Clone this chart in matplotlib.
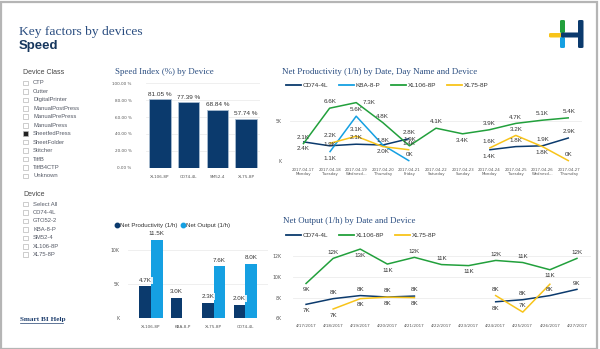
import matplotlib.pyplot as plt
from matplotlib.lines import Line2D
from matplotlib.patches import Rectangle, FancyBboxPatch
import numpy as np

W, H = 600, 349
NAVY = '#0b3a6d'
GREEN = '#22a03c'
LBLUE = '#15a0e2'
YELLOW = '#f8c41a'
TITLE = '#2a4d80'
GRID = '#ececec'
TICK = '#555555'
SANS = 'Liberation Sans'
SERIF = 'Liberation Serif'

# slicers
device_classes = ['CTP', 'Cutter', 'DigitalPrinter', 'ManualPostPress', 'ManualPrePress',
                  'ManualPress', 'SheetfedPress', 'SheetFolder', 'Stitcher', 'TiffB',
                  'TiffB4CTP', 'Unknown']
selected_class = 'SheetfedPress'
devices = ['Select All', 'CD74-4L', 'GTO52-2', 'KBA-8-P', 'SM52-4', 'XL106-8P', 'XL75-8P']

# speed index (%)
speed_devices = ['XL106-8P', 'CD74-4L', 'SM52-4', 'XL75-8P']
speed_index = [81.05, 77.39, 68.84, 57.74]

# net productivity (1/h, thousands) by day
prod_dates = ['2017-04-17', '2017-04-18', '2017-04-19', '2017-04-20', '2017-04-21', '2017-04-22',
              '2017-04-23', '2017-04-24', '2017-04-25', '2017-04-26', '2017-04-27']
prod_days = ['Monday', 'Tuesday', 'Wednesd...', 'Thursday', 'Friday', 'Saturday',
             'Sunday', 'Monday', 'Tuesday', 'Wednesd...', 'Thursday']
nan = np.nan
prod_cd74 = [2.4, 1.9, 2.1, 2.0, 2.8, nan, nan, 1.4, 1.8, 1.9, 2.9]
prod_kba = [nan, 1.1, 5.6, 2.0, 0.0, nan, nan, nan, nan, nan, nan]
prod_xl106 = [2.1, 6.6, 7.3, 4.8, 1.9, 4.1, 3.4, 3.9, 4.7, 5.1, 5.4]
prod_xl75 = [nan, 2.2, 3.1, 1.8, 1.4, nan, nan, 1.6, 3.2, 1.8, 0.0]

# net output (1/h, thousands) by date
out_dates = ['4/17/2017', '4/18/2017', '4/19/2017', '4/20/2017', '4/21/2017', '4/22/2017',
             '4/23/2017', '4/24/2017', '4/25/2017', '4/26/2017', '4/27/2017']
out_cd74 = [7.35, 7.9, 8.2, 8.06, 8.15, nan, nan, 7.6, 7.8, 8.2, 8.8]
out_xl106 = [9.37, 11.8, 12.7, 11.25, 11.9, 11.2, 11.1, 11.6, 11.4, 10.7, 11.8]
out_xl75 = [nan, 6.9, 7.9, 8.05, 8.0, nan, nan, 8.2, 6.6, 9.3, nan]

# totals by device
tot_devices = ['XL106-8P', 'KBA-8-P', 'XL75-8P', 'CD74-4L']
tot_prod = [4.7, 3.0, 2.3, 2.0]
tot_out = [11.5, nan, 7.6, 8.0]


def box(x0, y0, x1, y1):
    return [x0 / W, 1 - y1 / H, (x1 - x0) / W, (y1 - y0) / H]


def fx(x):
    return x / W


def fy(y):
    return 1 - y / H


def clean(ax):
    for s in ax.spines.values():
        s.set_visible(False)
    ax.tick_params(length=0, labelsize=3.3, colors=TICK, pad=2)
    ax.set_axisbelow(True)
    ax.yaxis.grid(True, color=GRID, lw=0.6)


fig = plt.figure(figsize=(6, 3.49), dpi=100)
fig.patch.set_facecolor('white')
fig.patches.append(Rectangle((0.5, 0.5), 596, 347, transform=None, fill=False,
                             ec='#b5b5b5', lw=1.6))

# header
fig.text(fx(19), fy(32), 'Key factors by devices', family=SERIF, size=9.7, color=TITLE, va='center')
fig.text(fx(19), fy(46), 'Speed', family=SANS, size=9.5, weight='bold', color='#17375e', va='center')

# logo
logo = [(549, 33, 14, 4.5, YELLOW), (560, 20, 5, 13, GREEN), (560, 37, 5, 11, LBLUE),
        (561, 32.5, 20, 5, NAVY), (578, 20, 5.5, 28, NAVY)]
for x, y, w, h, c in logo:
    fig.patches.append(FancyBboxPatch((fx(x), fy(y + h)), w / W, h / H, transform=fig.transFigure,
                                      boxstyle='round,pad=0,rounding_size=0.003', fc=c, ec='none'))

# slicers
def slicer(title, items, y0, picked=None):
    fig.text(fx(23), fy(y0), title, family=SANS, size=5, color='#444444', va='center')
    for i, name in enumerate(items):
        y = y0 + 10 + i * 8.45
        fc = '#222222' if name == picked else 'white'
        fig.patches.append(Rectangle((fx(23), fy(y + 2.3)), 4.6 / W, 4.6 / H, transform=fig.transFigure,
                                     fc=fc, ec='#b8b8b8', lw=0.5))
        fig.text(fx(33), fy(y), name, family=SANS, size=4.2, color='#555a66', va='center')


slicer('Device Class', device_classes, 73, selected_class)
slicer('Device', devices, 194)
fig.text(fx(20), fy(319), 'Smart BI Help', family=SERIF, size=5.2, color='#1f3f6e', va='center',
         weight='bold')
fig.add_artist(Line2D([fx(20), fx(63)], [fy(322.5), fy(322.5)], color='#1f3f6e', lw=0.5))

# speed index bars
ax1 = fig.add_axes(box(145.6, 83.3, 260.4, 167.7))
clean(ax1)
x = np.arange(len(speed_devices))
ax1.bar(x, speed_index, width=0.74, color=NAVY, ec='#a9bcd0', lw=0.6)
for xi, v in zip(x, speed_index):
    ax1.text(xi, v + 3, f'{v:.2f} %', ha='center', va='bottom', size=4.6, color='#333333', family=SANS)
ax1.set_xlim(-0.5, 3.5)
ax1.set_ylim(0, 100)
ax1.set_yticks(range(0, 101, 20))
ax1.set_yticklabels([f'{t:.2f} %' for t in range(0, 101, 20)])
ax1.set_xticks(x)
ax1.set_xticklabels(speed_devices)
ax1.tick_params(axis='x', labelsize=3.0, pad=5)
ax1.tick_params(axis='y', labelsize=3.0, pad=10)
fig.text(fx(115), fy(72), 'Speed Index (%) by Device', family=SERIF, size=6.4, color=TITLE, va='center')


def line_labels(ax, xs, vals, fmt, below=(), right=(), off=4.5, skip=(), custom=None):
    custom = custom or {}
    for i, v in enumerate(vals):
        if np.isnan(v) or i in skip:
            continue
        if i in right:
            ax.annotate(fmt(v), (xs[i], v), xytext=(9, 0), textcoords='offset points',
                        ha='center', va='center', size=4.5, color='#333333', family=SANS)
            continue
        dy = custom.get(i, -off if i in below else off)
        ax.annotate(fmt(v), (xs[i], v), xytext=(0, dy), textcoords='offset points', ha='center',
                    va='center', size=4.5, color='#333333', family=SANS, annotation_clip=False)


def kfmt1(v):
    return '0K' if v == 0 else f'{v:.1f}K'


def kfmt0(v):
    return f'{round(v)}K'


# net productivity by day
ax2 = fig.add_axes(box(289.7, 95.4, 582.3, 161))
clean(ax2)
xd = np.arange(len(prod_dates))
series2 = [('CD74-4L', prod_cd74, NAVY, (0, 7), (), (3,), {1: 1.2}),
           ('KBA-8-P', prod_kba, LBLUE, (1, 3), (), (), {}),
           ('XL106-8P', prod_xl106, GREEN, (6,), (2,), (), {}),
           ('XL75-8P', prod_xl75, YELLOW, (9,), (), (), {1: 5.5})]
for name, vals, c, below, right, skip, custom in series2:
    ax2.plot(xd, vals, color=c, lw=1.1, clip_on=False, solid_capstyle='butt')
    line_labels(ax2, xd, vals, kfmt1, below, right, skip=skip, custom=custom)
ax2.set_xlim(-0.5, 10.5)
ax2.set_ylim(0, 8.2)
ax2.set_yticks([0, 5])
ax2.set_yticklabels(['K', '5K'])
ax2.set_xticks(xd)
ax2.set_xticklabels([f'{d}\n{n}' for d, n in zip(prod_dates, prod_days)], linespacing=1.1)
ax2.tick_params(axis='x', labelsize=2.8, pad=5)
ax2.tick_params(axis='y', pad=6)
fig.text(fx(282), fy(72), 'Net Productivity (1/h) by Date, Day Name and Device', family=SERIF,
         size=6.4, color=TITLE, va='center')
h2 = [Line2D([], [], color=s[2], lw=1.3) for s in series2]
fig.legend(h2, [s[0] for s in series2], loc='center left', bbox_to_anchor=(fx(280), fy(85.7)),
           ncol=4, frameon=False, prop={'family': SANS, 'size': 4.6}, handlelength=2.4,
           handletextpad=0.3, columnspacing=1.6, labelcolor='#333333')

# totals by device
ax3 = fig.add_axes(box(128, 236.3, 268, 318.3))
clean(ax3)
xt = np.arange(len(tot_devices))
bw = 0.37
ax3.bar(xt - bw / 2, tot_prod, width=bw, color=NAVY)
ax3.bar(xt + bw / 2, tot_out, width=bw, color=LBLUE)
for xi, p, o in zip(xt, tot_prod, tot_out):
    ax3.text(xi - bw / 2, p + 0.5, f'{p:.1f}K', ha='center', va='bottom', size=4.5, color='#333333',
             family=SANS, bbox=dict(boxstyle='square,pad=0.15', fc='white', ec='none', alpha=0.85))
    if not np.isnan(o):
        ax3.text(xi + bw / 2, o + 0.5, f'{o:.1f}K', ha='center', va='bottom', size=4.5,
                 color='#333333', family=SANS, clip_on=False,
                 bbox=dict(boxstyle='square,pad=0.15', fc='white', ec='none', alpha=0.85))
ax3.set_xlim(-(151 - 128) / 31.4, (268 - 151) / 31.4)
ax3.set_ylim(0, 12)
ax3.set_yticks([0, 5, 10])
ax3.set_yticklabels(['K', '5K', '10K'])
ax3.set_xticks(xt)
ax3.set_xticklabels(tot_devices)
ax3.tick_params(axis='x', labelsize=3.0, pad=5)
ax3.tick_params(axis='y', pad=6)
h3 = [Line2D([], [], marker='o', ls='none', color=c, ms=3.2) for c in (NAVY, LBLUE)]
fig.legend(h3, ['Net Productivity (1/h)', 'Net Output (1/h)'], loc='center left',
           bbox_to_anchor=(fx(110), fy(225)), ncol=2, frameon=False,
           prop={'family': SANS, 'size': 4.4}, handlelength=0.6, handletextpad=0.2,
           columnspacing=0.6, labelcolor='#333333')

# net output by date
ax4 = fig.add_axes(box(292.5, 240.3, 590.5, 318.3))
clean(ax4)
series4 = [('CD74-4L', out_cd74, NAVY, (0, 7), ()),
           ('XL106-8P', out_xl106, GREEN, (0, 2, 3, 6, 9), ()),
           ('XL75-8P', out_xl75, YELLOW, (1, 2, 3, 4), (9,))]
for name, vals, c, below, skip in series4:
    ax4.plot(xd, vals, color=c, lw=1.1, clip_on=False)
    line_labels(ax4, xd, vals, kfmt0, below, skip=skip)
ax4.set_xlim(-0.5, 10.5)
ax4.set_ylim(6, 13.55)
ax4.set_yticks([6, 8, 10, 12])
ax4.set_yticklabels(['6K', '8K', '10K', '12K'])
ax4.set_xticks(xd)
ax4.set_xticklabels(out_dates)
ax4.tick_params(axis='x', labelsize=3.0, pad=4)
ax4.tick_params(axis='y', pad=8)
fig.text(fx(283), fy(221), 'Net Output (1/h) by Date and Device', family=SERIF, size=6.4,
         color=TITLE, va='center')
h4 = [Line2D([], [], color=s[2], lw=1.3) for s in series4]
fig.legend(h4, [s[0] for s in series4], loc='center left', bbox_to_anchor=(fx(280), fy(235)),
           ncol=3, frameon=False, prop={'family': SANS, 'size': 4.6}, handlelength=2.4,
           handletextpad=0.3, columnspacing=1.6, labelcolor='#333333')

fig.savefig('out.png', dpi=100)
